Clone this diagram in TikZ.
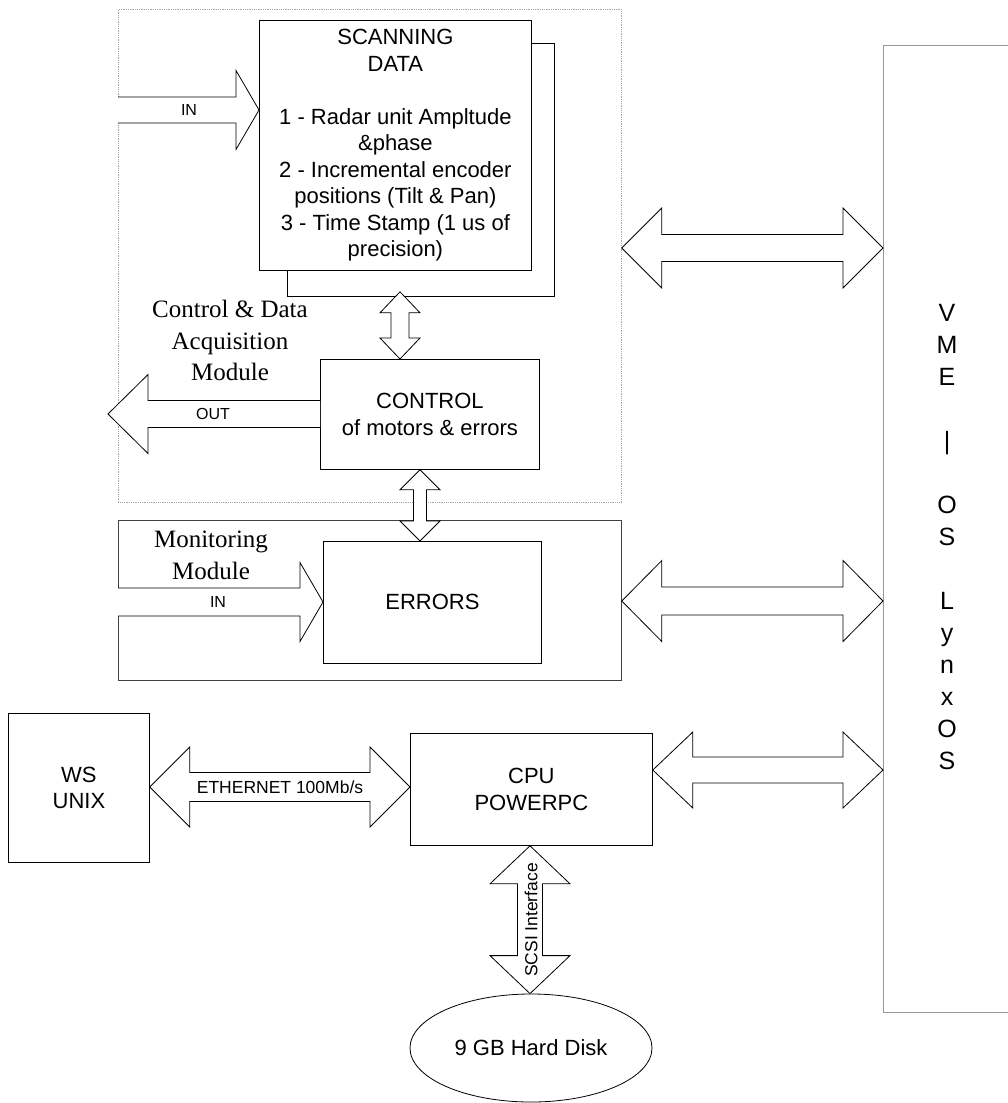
\documentclass[tikz,border=0pt]{standalone}
\usepackage{fontspec}
\setmainfont{Liberation Sans}
\newfontfamily\serifA{Liberation Serif}
\usetikzlibrary{calc,shapes.geometric}
% horizontal double block arrow: #1 left anchor, #2 right anchor, #3 y, #4 shaft half, #5 head half, #6 head length
\newcommand\hdbl[6]{%
  \draw[blk] let \p1=(#1), \p2=(#2), \p3=(0,#3) in
    (\x1,\y3) -- (\x1+#6pt,\y3+#5pt) -- (\x1+#6pt,\y3+#4pt) -- (\x2-#6pt,\y3+#4pt)
    -- (\x2-#6pt,\y3+#5pt) -- (\x2,\y3) -- (\x2-#6pt,\y3-#5pt) -- (\x2-#6pt,\y3-#4pt)
    -- (\x1+#6pt,\y3-#4pt) -- (\x1+#6pt,\y3-#5pt) -- cycle;}
% vertical double block arrow: #1 top anchor, #2 bottom anchor, #3 x, #4 shaft half, #5 head half, #6 head length
\newcommand\vdbl[6]{%
  \draw[blk] let \p1=(#1), \p2=(#2), \p3=(#3,0) in
    (\x3,\y1) -- (\x3+#5pt,\y1-#6pt) -- (\x3+#4pt,\y1-#6pt) -- (\x3+#4pt,\y2+#6pt)
    -- (\x3+#5pt,\y2+#6pt) -- (\x3,\y2) -- (\x3-#5pt,\y2+#6pt) -- (\x3-#4pt,\y2+#6pt)
    -- (\x3-#4pt,\y1-#6pt) -- (\x3-#5pt,\y1-#6pt) -- cycle;}
% horizontal single block arrow: #1 tail anchor, #2 tip anchor, #3 y, #4 shaft half, #5 head half, #6 signed head length (+ right, - left)
\newcommand\hsgl[6]{%
  \draw[blk] let \p1=(#1), \p2=(#2), \p3=(0,#3) in
    (\x1,\y3+#4pt) -- (\x2-#6pt,\y3+#4pt) -- (\x2-#6pt,\y3+#5pt) -- (\x2,\y3)
    -- (\x2-#6pt,\y3-#5pt) -- (\x2-#6pt,\y3-#4pt) -- (\x1,\y3-#4pt);}
\begin{document}
\begin{tikzpicture}[x=1pt,y=-1pt,
  box/.style={draw=black, line width=0.8pt, fill=white, inner sep=0pt, anchor=north west, align=center},
  blk/.style={draw=black, line width=0.8pt, fill=white, line join=miter},
  big/.style={font=\fontsize{22}{26.5}\selectfont},
  small/.style={font=\fontsize{16}{18}\selectfont},
  serifl/.style={font=\serifA\fontsize{25}{31.5}\selectfont, align=center, inner sep=0pt, anchor=north}]
\useasboundingbox (0,0) rectangle (1008,1103);
\fill[white] (0,0) rectangle (1008,1103);

% containers
\node[box, draw=gray!70, densely dotted, fill=none, minimum width=503pt, minimum height=493pt] (acq) at (118,9) {};
\node[box, draw=black!75, fill=none, minimum width=503pt, minimum height=160pt] (mon) at (118,520) {};
\node[box, draw=gray!80, fill=none, minimum width=150pt, minimum height=967pt] (vme) at (883,45) {};

% scanning data with shadow box
\node[box, minimum width=267pt, minimum height=253pt] (shadow) at (287,43) {};
\node[box, big, minimum width=272pt, minimum height=250pt] (scan) at (259,20)
  {SCANNING\\DATA\\[26.5pt]1 - Radar unit Ampltude\\\&phase\\2 - Incremental encoder\\positions (Tilt \& Pan)\\3 - Time Stamp (1 us of\\precision)};

\node[box, big, minimum width=219pt, minimum height=110pt] (ctrl) at (320,359) {CONTROL\\of motors \& errors};
\node[box, big, minimum width=218pt, minimum height=122pt] (err) at (323,541) {ERRORS};
\node[box, big, minimum width=141pt, minimum height=149pt] (ws) at (8,713) {WS\\UNIX};
\node[box, big, minimum width=242pt, minimum height=112pt] (cpu) at (410,733) {CPU\\POWERPC};
\node[draw=black, line width=0.8pt, ellipse, big, inner sep=0pt, minimum width=242pt, minimum height=108pt] (disk) at (531,1048) {9 GB Hard Disk};

% labels
\node[serifl] (acqlbl) at (230,300) {Control \& Data\\Acquisition\\Module};
\node[serifl] (monlbl) at (211,531) {Monitoring\\Module};
\node[font=\fontsize{25}{32}\selectfont, align=center, inner sep=0pt, anchor=north] (vmelbl) at (947,304)
  {V\\M\\E\\[32pt]|\\[32pt]O\\S\\[32pt]L\\y\\n\\x\\O\\S};

% arrows
\hdbl{acq.east}{vme.west}{248}{13.5}{40}{40}
\hdbl{mon.east}{vme.west}{601}{14}{40.5}{40}
\hdbl{cpu.east}{vme.west}{770}{13}{38}{40}
\hdbl{ws.east}{cpu.west}{787}{14.5}{40}{40}

\vdbl{$(shadow.south)+(0,-5)$}{ctrl.north}{400}{9}{20}{21}
\vdbl{ctrl.south}{err.north}{420}{6.5}{20}{20}
\vdbl{cpu.south}{disk.north}{530}{12.5}{40}{38}

\coordinate (outtip) at (108,414);
\hsgl{acq.west}{scan.west}{110}{13}{39.5}{23}
\hsgl{ctrl.west}{outtip}{414}{13.5}{39.5}{-40}
\hsgl{mon.west}{err.west}{602}{14}{39.5}{23}

\node[small] (inlbl) at (189,110) {IN};
\node[small] (outlbl) at (213,414) {OUT};
\node[small] (in2lbl) at (218,602) {IN};
\node[font=\fontsize{17.5}{19}\selectfont] (ethlbl) at (280,787) {ETHERNET 100Mb/s};
\node[font=\fontsize{17.5}{19}\selectfont, rotate=90] (scsilbl) at (531,920) {SCSI Interface};
\end{tikzpicture}
\end{document}
